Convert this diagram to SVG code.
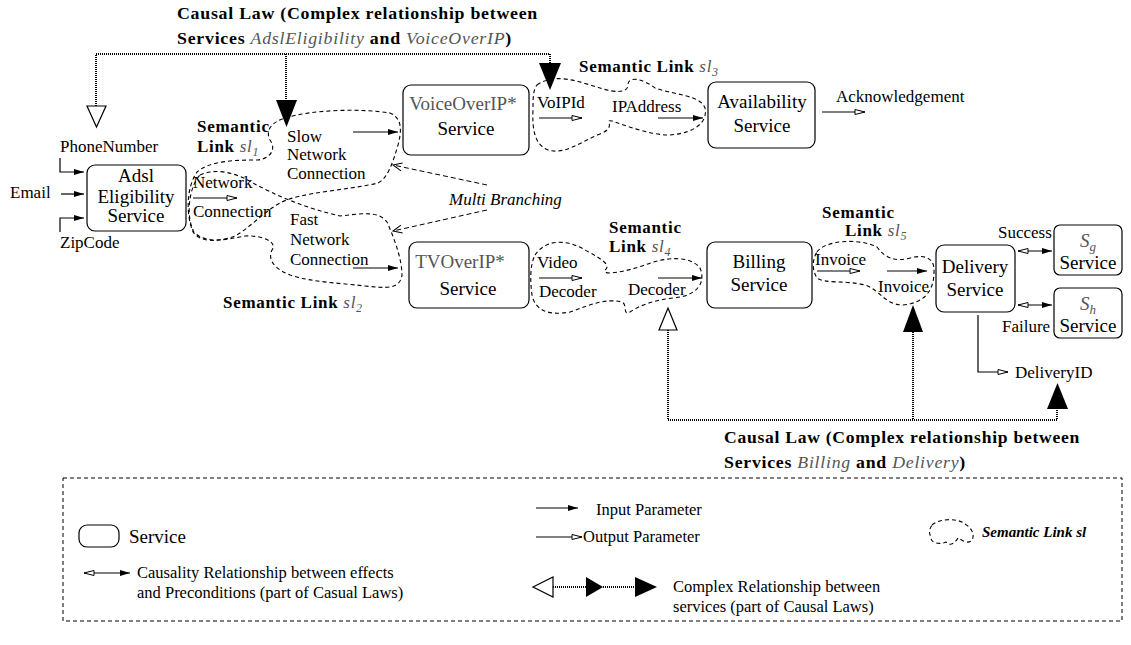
<svg xmlns="http://www.w3.org/2000/svg" width="1131" height="645" viewBox="0 0 1131 645">
<defs>
<style>
.t{font-family:"Liberation Serif","Times New Roman",serif;font-size:17px;fill:#000}
.b{font-family:"Liberation Serif","Times New Roman",serif;font-size:17px;font-weight:bold;letter-spacing:0.7px;fill:#000}
.bx{font-family:"Liberation Serif","Times New Roman",serif;font-size:19px;fill:#000;text-anchor:middle}
.gr{fill:#555}
.it{font-style:italic;font-weight:normal;fill:#555}
.lg{font-family:"Liberation Serif","Times New Roman",serif;font-size:16.5px;fill:#000}
.box{fill:#fff;stroke:#000;stroke-width:1.2}
.ln{fill:none;stroke:#000;stroke-width:1.2}
.in{fill:none;stroke:#000;stroke-width:1.2;marker-end:url(#mIn)}
.out{fill:none;stroke:#000;stroke-width:1.2;marker-end:url(#mOut)}
.dbl{fill:none;stroke:#000;stroke-width:1.2;marker-start:url(#mOutS);marker-end:url(#mIn)}
.cloud{fill:none;stroke:#000;stroke-width:1.1;stroke-dasharray:4,3}
.dot{fill:none;stroke:#000;stroke-width:2;stroke-dasharray:1,1}
.mb{fill:none;stroke:#000;stroke-width:1;stroke-dasharray:5,3;marker-end:url(#mV)}
</style>
<marker id="mIn" markerUnits="userSpaceOnUse" markerWidth="11" markerHeight="8" refX="10" refY="4" orient="auto"><path d="M0,1 L10,4 L0,7 z" fill="#000"/></marker>
<marker id="mOut" markerUnits="userSpaceOnUse" markerWidth="12" markerHeight="8" refX="11" refY="4" orient="auto"><path d="M1,1.5 L11,4 L1,6.5 z" fill="#fff" stroke="#000" stroke-width="1"/></marker>
<marker id="mOutS" markerUnits="userSpaceOnUse" markerWidth="12" markerHeight="8" refX="11" refY="4" orient="auto-start-reverse"><path d="M1,1.5 L11,4 L1,6.5 z" fill="#fff" stroke="#000" stroke-width="1"/></marker>
<marker id="mV" markerUnits="userSpaceOnUse" markerWidth="12" markerHeight="10" refX="10" refY="5" orient="auto"><path d="M1,1 L10,5 L1,9" fill="none" stroke="#000" stroke-width="1"/></marker>
</defs>
<rect width="1131" height="645" fill="#fff"/>

<g id="causal-top">
<text class="b" x="177" y="19" textLength="361" lengthAdjust="spacingAndGlyphs">Causal Law (Complex relationship between</text>
<text class="b" x="177" y="44" textLength="335" lengthAdjust="spacingAndGlyphs">Services <tspan class="it">AdslEligibility</tspan> and <tspan class="it">VoiceOverIP</tspan>)</text>
</g>
<g id="causal-bottom">
<text class="b" x="724" y="443" textLength="356" lengthAdjust="spacingAndGlyphs">Causal Law (Complex relationship between</text>
<text class="b" x="724" y="468" textLength="242" lengthAdjust="spacingAndGlyphs">Services <tspan class="it">Billing</tspan> and <tspan class="it">Delivery</tspan>)</text>
</g>

<g id="semantic-links">
<path class="cloud" d="M285,118 C310,110 360,108 390,113 C402,118 402,130 398,145 C393,162 388,178 378,183 C350,190 300,192 280,203 C262,213 250,228 235,236 C220,242 200,243 193,232 C186,215 186,188 197,172 C210,160 240,160 258,160 C272,158 276,148 270,140 C265,130 272,122 285,118 Z"/>
<path class="cloud" d="M200,175 C215,168 235,172 253,183 C275,195 305,208 340,216 C360,214 378,210 387,222 C395,240 402,260 402,275 C400,290 385,288 365,286 C340,283 310,282 290,275 C272,268 268,258 272,250 C278,242 262,235 245,236 C225,240 205,244 194,232 C186,218 188,188 200,175 Z"/>
<path class="cloud" d="M537,85 C555,72 580,82 600,88 C615,93 628,93 628,85 C628,76 642,78 655,88 C675,95 700,95 705,108 C708,122 695,133 670,135 C650,135 630,127 612,121 C603,119 618,127 600,134 C580,142 565,155 548,150 C535,145 532,130 533,110 C533,98 533,90 537,85 Z"/>
<path class="cloud" d="M535,255 C545,240 565,238 585,250 C600,258 612,265 605,270 C602,276 625,272 645,265 C665,257 690,255 700,268 C706,282 698,296 673,298 C655,300 640,305 630,312 C622,316 628,305 622,302 C605,298 590,305 570,312 C548,316 535,310 532,295 C530,280 530,265 535,255 Z"/>
<path class="cloud" d="M817,252 C825,240 860,238 877,247 C885,258 895,262 910,258 C925,254 935,258 934,272 C934,290 925,303 903,305 C885,305 880,290 865,285 C845,280 825,284 817,278 C812,270 812,260 817,252 Z"/>
</g>

<g id="connectors">
<path class="in" d="M60,158 V172 H84"/>
<path class="in" d="M61,194 H84"/>
<path class="in" d="M60,232 V218 H84"/>
<path class="out" d="M193,198 H237"/>
<path class="in" d="M353,132 H398"/>
<path class="in" d="M353,268 H398"/>
<path class="out" d="M539,118 H582"/>
<path class="in" d="M658,118 H703"/>
<path class="out" d="M822,112 H865"/>
<path class="out" d="M539,278 H582"/>
<path class="in" d="M658,278 H702"/>
<path class="out" d="M817,271 H860"/>
<path class="in" d="M887,271 H927"/>
<path class="dbl" d="M1018,251 H1052"/>
<path class="dbl" d="M1018,305 H1052"/>
<path class="out" d="M978,315 V372 H1008"/>
<path class="mb" d="M487,185 L393,165"/>
<path class="mb" d="M487,210 L393,231"/>
<path class="dot" d="M96,106 V54 H550 V63"/>
<path class="dot" d="M286,54 V100"/>
<polygon points="87,106 106,106 96.5,127" fill="#fff" stroke="#000" stroke-width="1.2"/>
<polygon points="276,100 297,100 286.5,127" fill="#000"/>
<polygon points="539,63 561,63 550,90" fill="#000"/>
<path class="dot" d="M668,330 V420 H1057 V409"/>
<path class="dot" d="M913,332 V420"/>
<polygon points="659,330 677,330 668,308" fill="#fff" stroke="#000" stroke-width="1.2"/>
<polygon points="903,332 923,332 913,305" fill="#000"/>
<polygon points="1047,409 1068,409 1057.5,383" fill="#000"/>
</g>

<g id="labels">
<text class="t" x="60" y="152">PhoneNumber</text>
<text class="t" x="10" y="198">Email</text>
<text class="t" x="60" y="248">ZipCode</text>
<text class="t" x="193" y="188">Network</text>
<text class="t" x="193" y="217">Connection</text>
<text class="b" x="197" y="132">Semantic</text>
<text class="b" x="197" y="152">Link <tspan class="it">sl</tspan><tspan class="it" font-size="12" dy="4">1</tspan></text>
<text class="t" x="287" y="142">Slow</text>
<text class="t" x="287" y="160">Network</text>
<text class="t" x="287" y="179">Connection</text>
<text class="t" x="290" y="225">Fast</text>
<text class="t" x="290" y="245">Network</text>
<text class="t" x="290" y="265">Connection</text>
<text class="b" x="223" y="308">Semantic Link <tspan class="it">sl</tspan><tspan class="it" font-size="12" dy="4">2</tspan></text>
<text class="t" x="449" y="205" font-style="italic">Multi Branching</text>
<text class="b" x="579" y="72">Semantic Link <tspan class="it">sl</tspan><tspan class="it" font-size="12" dy="4">3</tspan></text>
<text class="t" x="537" y="108">VoIPId</text>
<text class="t" x="612" y="112">IPAddress</text>
<text class="t" x="836" y="102">Acknowledgement</text>
<text class="t" x="537" y="268">Video</text>
<text class="t" x="539" y="297">Decoder</text>
<text class="b" x="609" y="233">Semantic</text>
<text class="b" x="609" y="252">Link <tspan class="it">sl</tspan><tspan class="it" font-size="12" dy="4">4</tspan></text>
<text class="t" x="628" y="295">Decoder</text>
<text class="b" x="822" y="218">Semantic</text>
<text class="b" x="845" y="236">Link <tspan class="it">sl</tspan><tspan class="it" font-size="12" dy="4">5</tspan></text>
<text class="t" x="815" y="265">Invoice</text>
<text class="t" x="878" y="292">Invoice</text>
<text class="t" x="998" y="238">Success</text>
<text class="t" x="1002" y="332">Failure</text>
<text class="t" x="1015" y="378">DeliveryID</text>
</g>

<g id="adsl">
<rect class="box" x="87" y="165" width="99" height="66" rx="8"/>
<text class="bx" x="136" y="182">Adsl</text>
<text class="bx" x="136" y="203">Eligibility</text>
<text class="bx" x="136" y="222">Service</text>
</g>
<g id="voip">
<rect class="box" x="403" y="85" width="126" height="70" rx="8"/>
<text class="bx gr" x="463" y="110">VoiceOverIP*</text>
<text class="bx" x="466" y="135">Service</text>
</g>
<g id="availability">
<rect class="box" x="708" y="82" width="107" height="66" rx="8"/>
<text class="bx" x="762" y="108">Availability</text>
<text class="bx" x="762" y="132">Service</text>
</g>
<g id="tvoip">
<rect class="box" x="409" y="242" width="120" height="66" rx="8"/>
<text class="bx gr" x="460" y="268">TVOverIP*</text>
<text class="bx" x="468" y="295">Service</text>
</g>
<g id="billing">
<rect class="box" x="707" y="242" width="105" height="66" rx="8"/>
<text class="bx" x="759" y="268">Billing</text>
<text class="bx" x="759" y="291">Service</text>
</g>
<g id="delivery">
<rect class="box" x="936" y="245" width="79" height="67" rx="8"/>
<text class="bx" x="975" y="273">Delivery</text>
<text class="bx" x="975" y="296">Service</text>
</g>
<g id="sg">
<rect class="box" x="1054" y="225" width="68" height="50" rx="6"/>
<text class="bx gr" x="1088" y="247" font-style="italic">S<tspan font-size="13" dy="4">g</tspan></text>
<text class="bx" x="1088" y="269">Service</text>
</g>
<g id="sh">
<rect class="box" x="1054" y="288" width="68" height="50" rx="6"/>
<text class="bx gr" x="1088" y="310" font-style="italic">S<tspan font-size="13" dy="4">h</tspan></text>
<text class="bx" x="1088" y="332">Service</text>
</g>

<g id="legend">
<rect x="63" y="478" width="1059" height="143" fill="none" stroke="#000" stroke-width="1" stroke-dasharray="4,3"/>
<rect class="box" x="79" y="525" width="40" height="22" rx="8"/>
<text x="129" y="543" font-family="Liberation Serif, serif" font-size="19">Service</text>
<path class="dbl" d="M84,573 H130"/>
<text class="lg" x="137" y="578" font-size="17.5">Causality Relationship between effects</text>
<text class="lg" x="137" y="598" font-size="17.5">and Preconditions (part of Casual Laws)</text>
<path class="in" d="M536,508 H578"/>
<text class="lg" x="596" y="515">Input Parameter</text>
<path class="out" d="M536,537 H582"/>
<text class="lg" x="583" y="542">Output Parameter</text>
<polygon points="533,587 553,577 553,597" fill="#fff" stroke="#000" stroke-width="1.2"/>
<path class="dot" d="M553,587 H586"/>
<polygon points="586,577 586,597 603,587" fill="#000"/>
<path class="dot" d="M603,587 H635"/>
<polygon points="635,577 635,597 657,587" fill="#000"/>
<text class="lg" x="673" y="592">Complex Relationship between</text>
<text class="lg" x="673" y="612">services (part of Causal Laws)</text>
<path class="cloud" stroke-dasharray="3,2.5" d="M932,525 C940,518 958,518 965,524 C972,528 975,535 972,540 C968,545 962,540 958,538 C955,543 950,547 946,542 C940,545 930,543 931,537 C928,532 930,528 932,525 Z"/>
<text x="982" y="537" font-family="Liberation Serif, serif" font-size="15" font-weight="bold" font-style="italic">Semantic Link sl</text>
</g>
</svg>
